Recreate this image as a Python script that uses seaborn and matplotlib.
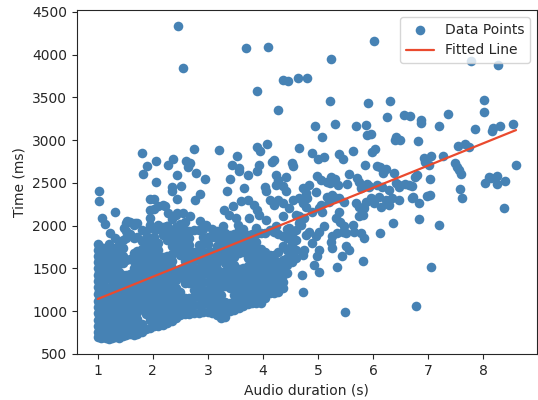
import numpy as np
import pandas as pd
import matplotlib
matplotlib.use('Agg')
import matplotlib.pyplot as plt
import seaborn as sns

sns.set_style('ticks')
plt.rcParams['font.family'] = ['DejaVu Sans']

# --- Data ---

# sparse points above / right of the main cloud
sparse_dur = [2.45, 2.55, 3.70, 4.10, 3.90, 4.28, 4.36, 4.45, 4.63, 4.80,
              5.23, 6.02, 7.79, 8.27, 5.22, 5.91, 6.31, 8.01, 8.01,
              6.25, 6.56, 6.67, 6.87, 6.88, 7.36, 7.20, 7.86, 8.16, 8.19, 8.31, 8.55,
              4.94, 5.31, 5.70, 5.87, 5.90, 5.96, 5.07, 6.41, 6.40, 6.49, 6.81,
              4.66, 4.90, 5.00, 5.11, 5.39, 5.45, 5.63, 5.99, 6.03,
              4.52, 4.55, 5.86, 6.07, 6.12, 6.24, 6.18, 6.39, 5.57,
              6.92, 7.05, 7.27, 6.95, 7.01, 7.54, 7.68, 7.75,
              7.50, 7.53, 7.56, 7.60, 8.60, 8.10, 8.25, 8.25, 8.04, 8.40, 8.15,
              6.76, 7.03, 7.59, 7.61, 6.72, 6.83, 6.98, 7.04,
              6.83, 7.20, 8.39, 7.06, 6.78, 5.50,
              6.36, 6.13, 5.81, 5.35, 5.44, 4.72, 4.71, 4.36,
              4.42, 4.99, 5.05, 5.17, 5.23, 5.22, 5.31, 5.37, 5.71, 5.74, 5.89, 5.53,
              4.78, 6.08, 6.17, 5.93, 6.41, 6.47, 6.59, 6.71, 6.80]
sparse_time = [4335, 3840, 4075, 4085, 3580, 3355, 3705, 3697, 3724, 3724,
               3955, 4155, 3927, 3878, 3462, 3430, 3460, 3467, 3330,
               3267, 3290, 3287, 3233, 3198, 3307, 3162, 3128, 3108, 3147, 3170, 3185,
               3160, 3187, 3170, 3183, 3063, 3072, 3036, 3038, 3004, 3006, 2994,
               2907, 2852, 2778, 2804, 2840, 2778, 2879, 2867, 2891,
               2730, 2699, 2715, 2700, 2684, 2666, 2618, 2613, 2603,
               2796, 2818, 2818, 2749, 2710, 2937, 2956, 2925,
               2738, 2688, 2650, 2600, 2710, 2574, 2578, 2485, 2493, 2525, 2555,
               2574, 2551, 2425, 2325, 2335, 2263, 2341, 2360,
               2080, 2009, 2204, 1511, 1058, 990,
               2029, 1915, 1590, 1514, 1646, 1222, 1428, 1268,
               2574, 2580, 2530, 2516, 2567, 2496, 2543, 2477, 2555, 2516, 2485, 2489,
               2387, 2473, 2457, 2466, 2497, 2477, 2489, 2458, 2594]

# middle band, 4.6 - 6.8 s
mid_dur = [5.17, 5.26, 5.32, 5.38, 5.20, 5.48, 5.69, 5.75, 5.84, 5.81, 5.75, 5.38,
           5.32, 5.41, 5.48, 5.45, 5.51, 5.63, 5.66, 5.78, 5.84, 5.26, 5.23, 5.26,
           5.51, 5.57, 5.11, 5.02, 4.96, 4.90, 5.02, 4.99, 4.93, 5.02, 4.78, 4.75,
           4.72, 4.84, 4.69, 4.66, 4.78, 4.81, 5.96, 6.02, 6.11, 6.23, 6.29, 6.35,
           6.47, 6.71, 5.05, 5.08, 5.35, 5.87, 4.72, 4.84, 4.96, 4.66, 4.90, 5.02,
           4.75, 5.78, 5.93, 6.29, 6.47, 6.65, 6.14, 6.26]
mid_time = [2340, 2360, 2321, 2321, 2282, 2282, 2262, 2223, 2204, 2126, 2107, 2165,
            2087, 2048, 1990, 1931, 1912, 2009, 1931, 1912, 1861, 1873, 1814, 1736,
            1756, 1717, 1990, 1931, 1873, 1795, 1717, 1639, 1541, 1463, 1892, 1717,
            1658, 1931, 2009, 2107, 2223, 2321, 2321, 2262, 2340, 2301, 2243, 2321,
            2301, 2321, 2243, 2165, 1912, 2282, 2438, 2477, 2399, 2321, 2165, 2204,
            2087, 2438, 2457, 2418, 2457, 2477, 2223, 2282]

# upper edge of the cloud, 1 - 4.8 s
upper_dur = [2.74, 3.21, 3.53, 3.90, 3.95, 4.07, 2.67, 2.79, 2.94, 3.44, 3.57, 3.56,
             3.93, 3.90, 4.16, 4.21, 3.72, 3.40, 4.24, 4.27, 4.24, 3.66, 3.35, 4.03,
             4.06, 4.36, 4.42, 2.85, 2.76, 3.72, 3.30, 3.45, 3.60, 3.84, 3.90, 3.93,
             4.12, 4.21, 4.27, 4.36, 4.48, 4.54, 4.72, 2.67, 2.85, 2.97, 3.39, 3.51,
             3.75, 4.06, 4.36, 4.60, 4.66, 3.27, 3.54, 3.87, 4.24, 4.48,
             1.80, 2.06, 1.89, 1.82, 2.28, 2.37, 2.61, 2.64, 2.43, 2.06, 2.34, 2.34,
             2.52, 2.43, 1.03, 1.03, 1.95, 2.10, 2.22, 2.28, 2.43, 2.55, 1.31, 1.95,
             1.94, 1.95, 1.07, 1.13, 1.53, 1.68, 1.47, 2.10, 2.25, 2.49, 1.22]
upper_time = [2895, 2887, 2817, 2918, 2879, 2953, 2731, 2614, 2548, 2711, 2672, 2634,
              2711, 2634, 2739, 2770, 2595, 2544, 2595, 2536, 2478, 2438, 2411, 2450,
              2400, 2458, 2400, 2368, 2302, 2302, 2185, 2232, 2283, 2244, 2185, 2127,
              2302, 2244, 2302, 2263, 2205, 2302, 2263, 2107, 2049, 2010, 2127, 2088,
              2088, 2068, 2107, 2127, 2029, 1990, 2010, 1970, 1990, 1970,
              2848, 2762, 2692, 2606, 2711, 2778, 2762, 2684, 2594, 2505, 2450, 2411,
              2466, 2310, 2411, 2294, 2310, 2232, 2232, 2146, 2146, 2146, 2158, 2185,
              2088, 2010, 2088, 2021, 2049, 2029, 1970, 2010, 1990, 1990, 1912]

# dense cloud: duration of each column and the times read in it
cloud_dur = [1.00, 1.02, 1.06, 1.10, 1.15, 1.20, 1.26, 1.32, 1.38, 1.45,
             1.52, 1.58, 1.65, 1.72, 1.80, 1.88, 1.95, 2.02, 2.10, 2.18,
             2.26, 2.34, 2.42, 2.50, 2.58, 2.66, 2.75, 2.84, 2.92, 3.00,
             3.08, 3.16, 3.24, 3.32, 3.40, 3.48, 3.56, 3.64, 3.72, 3.80,
             3.88, 3.96, 4.04, 4.12, 4.20, 4.28, 4.36, 4.44, 4.52, 4.60]
cloud_time = [
    [700, 760, 830, 900, 980, 1050, 1120, 1200, 1280, 1350, 1420, 1500, 1570, 1650, 1720, 1780],
    [720, 810, 950, 1090, 1240, 1390, 1460, 1610, 1760],
    [690, 780, 870, 960, 1040, 1130, 1210, 1300, 1380, 1470, 1550, 1630, 1700],
    [700, 790, 880, 970, 1060, 1150, 1240, 1320, 1400, 1490, 1570, 1660, 1740],
    [680, 760, 850, 940, 1020, 1110, 1200, 1370, 1460, 1540, 1620, 1720],
    [670, 760, 850, 930, 1010, 1100, 1190, 1270, 1440, 1530, 1610, 1690, 1780],
    [690, 780, 860, 950, 1040, 1120, 1210, 1300, 1380, 1470, 1550, 1640, 1730],
    [700, 790, 880, 960, 1050, 1140, 1230, 1310, 1400, 1480, 1570, 1650, 1740, 1850],
    [690, 770, 860, 950, 1030, 1120, 1210, 1290, 1380, 1460, 1550, 1640, 1720, 1810],
    [710, 800, 890, 980, 1060, 1150, 1240, 1330, 1420, 1560, 1650, 1740, 1830],
    [720, 810, 900, 990, 1070, 1160, 1250, 1340, 1420, 1600, 1850, 1940, 2030],
    [730, 820, 900, 990, 1080, 1160, 1250, 1340, 1430, 1610, 1900, 2040],
    [720, 810, 890, 980, 1070, 1160, 1240, 1330, 1420, 1510, 1590, 1680, 1860, 2010],
    [730, 820, 910, 990, 1080, 1170, 1260, 1350, 1430, 1520, 1610, 1700, 1870, 2030],
    [760, 850, 1020, 1110, 1200, 1290, 1380, 1460, 1550, 1640, 1730, 1820, 1950],
    [790, 970, 1060, 1140, 1230, 1320, 1410, 1500, 1580, 1670, 1760, 1850, 1940],
    [800, 890, 980, 1070, 1150, 1240, 1330, 1420, 1500, 1590, 1680, 1770, 1860],
    [820, 910, 990, 1080, 1170, 1260, 1340, 1430, 1520, 1610, 1690, 1780, 1870, 1960, 2200, 2310],
    [830, 920, 1010, 1100, 1180, 1270, 1360, 1450, 1530, 1620, 1710, 1800, 1960],
    [840, 930, 1020, 1100, 1190, 1280, 1370, 1460, 1540, 1630, 1890, 1980, 2240],
    [860, 950, 1040, 1130, 1210, 1300, 1390, 1480, 1570, 1650, 1830, 1920, 2000],
    [880, 970, 1060, 1150, 1230, 1320, 1410, 1500, 1590, 1670, 1760, 1850, 1940, 2080],
    [920, 1010, 1100, 1180, 1270, 1360, 1450, 1710, 1800, 1890, 1980, 2120],
    [960, 1050, 1140, 1220, 1400, 1490, 1660, 1750, 1840, 1930, 2020],
    [970, 1060, 1150, 1330, 1420, 1500, 1590, 1680, 1770, 1860, 1950, 2040],
    [970, 1060, 1150, 1330, 1410, 1500, 1590, 1680, 1770, 1850, 1940],
    [980, 1070, 1160, 1250, 1340, 1420, 1510, 1600, 1690, 1950],
    [980, 1070, 1160, 1250, 1330, 1420, 1510, 1600, 1680, 1770, 1950],
    [990, 1080, 1170, 1250, 1340, 1430, 1520, 1610, 1690, 1780, 1870, 1960],
    [990, 1080, 1160, 1250, 1340, 1430, 1520, 1600, 1690, 1780, 1870],
    [980, 1070, 1160, 1250, 1340, 1420, 1510, 1600, 1690, 1870, 1960],
    [960, 1050, 1140, 1230, 1320, 1410, 1490, 1580, 1670, 1760, 1850, 1940],
    [920, 1010, 1100, 1190, 1280, 1370, 1450, 1630, 1720, 1810, 1900],
    [930, 1020, 1110, 1290, 1380, 1470, 1560, 1640, 1730, 1820, 1910],
    [1000, 1090, 1270, 1360, 1450, 1540, 1620, 1710, 1800, 1890],
    [1010, 1100, 1190, 1280, 1370, 1460, 1540, 1630, 1720, 1810, 1900],
    [1040, 1130, 1220, 1310, 1400, 1490, 1680, 1770, 1860, 1950],
    [1060, 1150, 1240, 1330, 1420, 1510, 1690, 1780, 1870, 1960],
    [1080, 1170, 1260, 1350, 1440, 1530, 1620, 1710, 1800, 1890],
    [1100, 1190, 1280, 1370, 1450, 1540, 1630, 1720, 1810, 1900],
    [1090, 1180, 1270, 1360, 1450, 1540, 1630, 1720, 1810, 1900],
    [1100, 1190, 1280, 1370, 1460, 1550, 1640, 1730, 1910],
    [1150, 1240, 1330, 1420, 1510, 1600, 1690, 1910],
    [1210, 1300, 1390, 1480, 1570, 1660, 1950],
    [1210, 1300, 1390, 1480, 1570, 1660, 1930],
    [1220, 1310, 1400, 1490, 1580, 1690, 1900],
    [1340, 1420, 1510, 1600, 1760, 1880],
    [1450, 1540, 1620, 1720, 1850, 1960],
    [1580, 1660, 1790, 1900],
    [1620, 1710, 1830, 1950],
]

# fitted line (ms = slope * s + intercept)
fit_slope = 260.0
fit_intercept = 882.0

# --- Build one table ---
cloud_x = [d for d, ts in zip(cloud_dur, cloud_time) for _ in ts]
cloud_y = [t for ts in cloud_time for t in ts]

df = pd.DataFrame({
    'duration': sparse_dur + mid_dur + upper_dur + cloud_x,
    'time': sparse_time + mid_time + upper_time + cloud_y,
})

line_x = np.array([df['duration'].min(), df['duration'].max()])
line_df = pd.DataFrame({'duration': line_x, 'time': fit_slope * line_x + fit_intercept})

# --- Plot ---
fig, ax = plt.subplots(figsize=(5.38, 4.0), dpi=100)
fig.subplots_adjust(left=0.143, right=0.998, bottom=0.115, top=0.975)

sns.scatterplot(data=df, x='duration', y='time', ax=ax, color='steelblue',
                s=48, linewidth=0, label='Data Points')
sns.lineplot(data=line_df, x='duration', y='time', ax=ax, color='#ea4a2e',
             linewidth=1.6, label='Fitted Line')

ax.set_xlim(0.62, 8.98)
ax.set_ylim(498, 4523)
ax.set_xlabel('Audio duration (s)')
ax.set_ylabel('Time (ms)')
ax.legend(loc='upper right')

fig.savefig('out.png', dpi=100)
